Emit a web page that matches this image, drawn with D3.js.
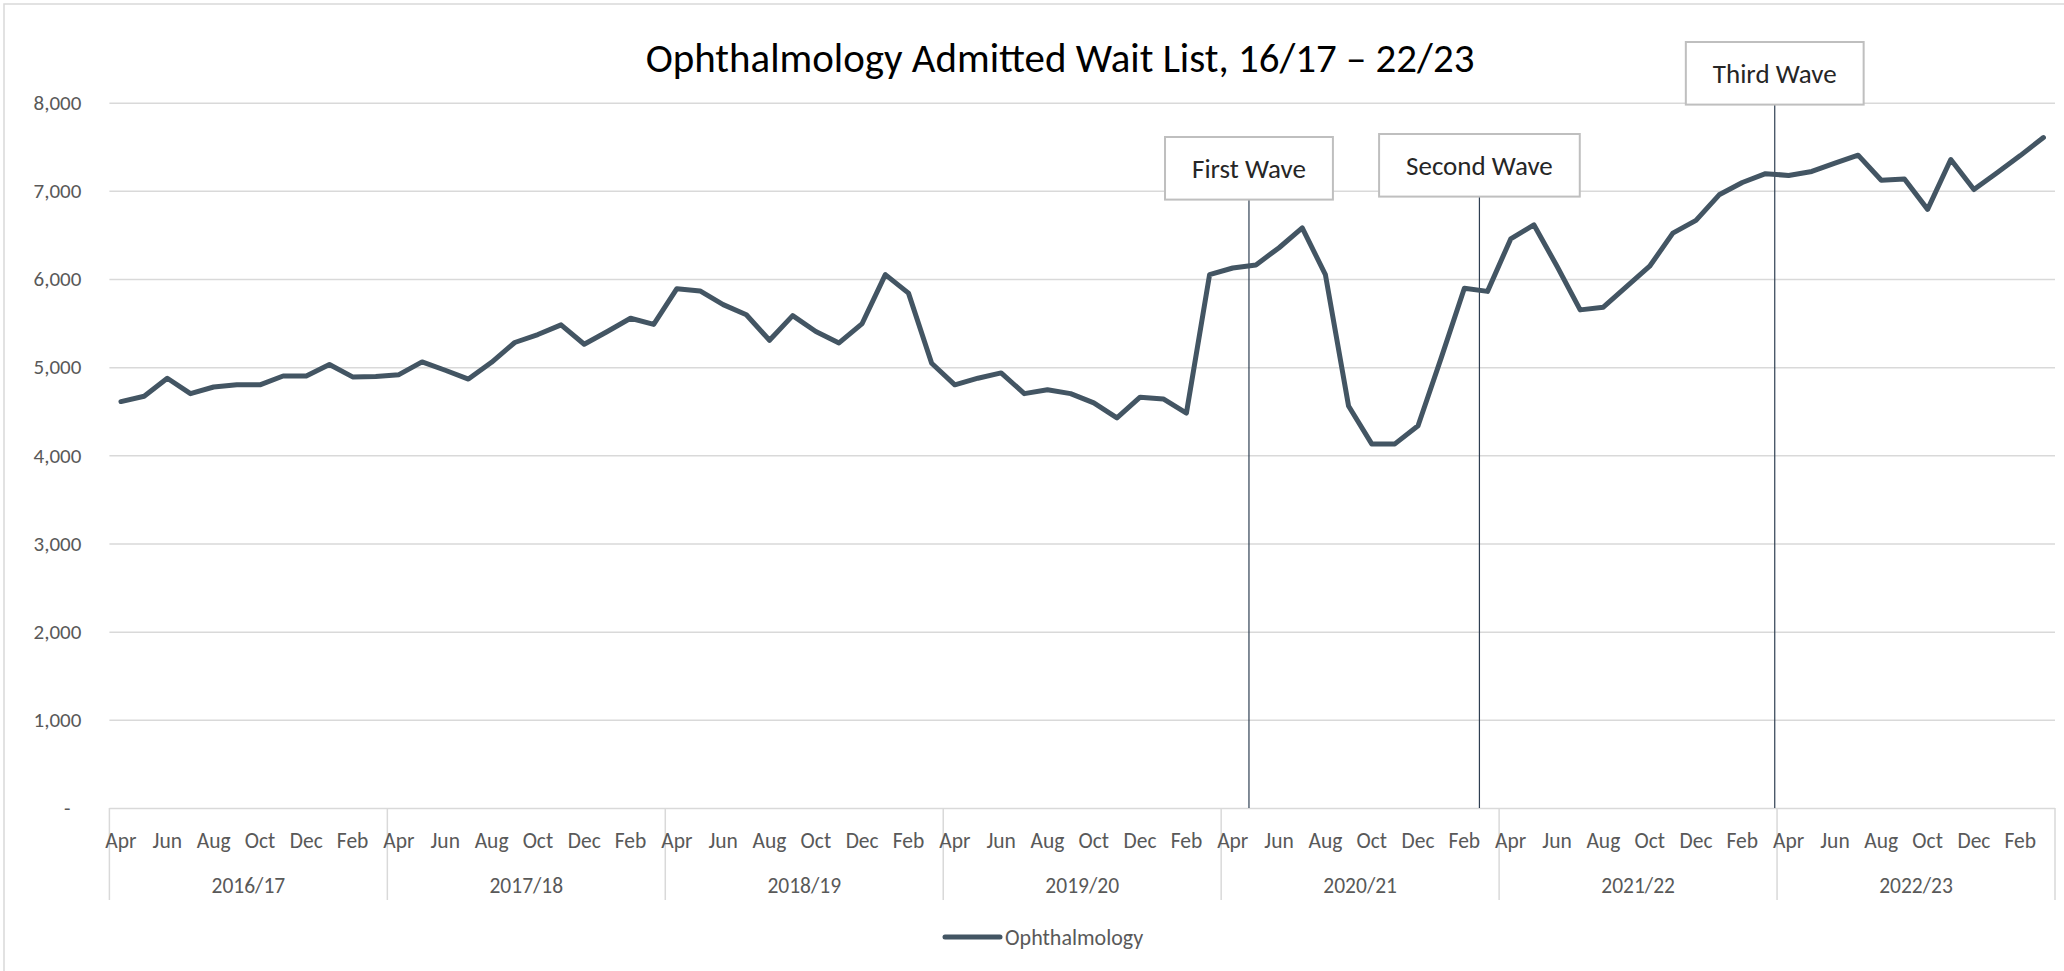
<!DOCTYPE html>
<html>
<head>
<meta charset="utf-8">
<script src="https://cdn.jsdelivr.net/npm/d3@7"></script>
<style>
  html, body { margin: 0; padding: 0; background: #ffffff; }
  svg text { font-family: Carlito, Calibri, Lato, sans-serif; }
</style>
</head>
<body>
<div id="svgcontainer"></div>
<script>
         var fiscalYears = ["2016/17", "2017/18", "2018/19", "2019/20", "2020/21", "2021/22", "2022/23"];
         var monthNames = ["Apr", "May", "Jun", "Jul", "Aug", "Sep", "Oct", "Nov", "Dec", "Jan", "Feb", "Mar"];

         // monthly admitted wait list, Apr 2016 .. Mar 2023
         var waitList = [
            4610, 4670, 4875, 4700, 4775, 4800, 4800, 4900, 4900, 5030, 4890, 4895,
            4915, 5060, 4965, 4865, 5055, 5280, 5370, 5480, 5260, 5405, 5555, 5485,
            5890, 5865, 5710, 5595, 5305, 5585, 5405, 5275, 5495, 6050, 5840, 5045,
            4800, 4875, 4935, 4700, 4745, 4700, 4595, 4425, 4660, 4640, 4480, 6050,
            6125, 6160, 6355, 6580, 6050, 4560, 4130, 4130, 4335, 5105, 5895, 5860,
            6455, 6615, 6145, 5650, 5680, 5915, 6145, 6520, 6665, 6955, 7095, 7195,
            7175, 7220, 7315, 7405, 7120, 7135, 6790, 7355, 7015, 7205, 7400, 7605
         ];

         var yTicks = [0, 1000, 2000, 3000, 4000, 5000, 6000, 7000, 8000];

         var waveLabels = ["First Wave", "Second Wave", "Third Wave"];
         var waveMonths = [49.2, 59.15, 71.9];

         var width = 2064;
         var height = 971;

         var svg = d3.select("#svgcontainer")
            .append("svg")
            .attr("width", width)
            .attr("height", height);

         var plotLeft = 109.4, plotRight = 2055, plotTop = 102.7, plotBottom = 808;
         var lineColor = "#435563";
         var gridColor = "#d9d9d9";
         var textColor = "#595959";

         var x = d3.scaleLinear()
            .domain([0, waitList.length])
            .range([plotLeft, plotRight]);

         var y = d3.scaleLinear()
            .domain([0, 8000])
            .range([plotBottom, plotTop]);

         // chart border
         svg.append("rect")
            .attr("x", 4)
            .attr("y", 4)
            .attr("width", width + 10)
            .attr("height", height + 10)
            .attr("fill", "white")
            .attr("stroke", gridColor)
            .attr("stroke-width", 1.5);

         // title
         var title = svg.append("text")
            .attr("x", 1060)
            .attr("y", 72)
            .attr("text-anchor", "middle")
            .attr("fill", "#000000")
            .style("font-size", "40px")
            .text("Ophthalmology Admitted Wait List, 16/17 \u2013 22/23");

         var tlen = title.node().getComputedTextLength();
         title.style("font-size", (40 * 829 / tlen) + "px");

         // y axis with gridlines
         var yAxis = svg.append("g")
            .attr("transform", "translate(" + plotLeft + ",0)")
            .call(d3.axisLeft(y)
               .tickValues(yTicks)
               .tickSize(-(plotRight - plotLeft))
               .tickPadding(28)
               .tickFormat(function(d){ return d == 0 ? "-" : d3.format(",")(d); }));

         yAxis.select(".domain").remove();
         yAxis.selectAll(".tick line")
            .attr("stroke", gridColor)
            .attr("stroke-width", 1.5);
         yAxis.selectAll(".tick text")
            .attr("fill", textColor)
            .style("font-size", "21px")
            .attr("dx", function(d){ return d == 0 ? -11 : 0; });

         // category axis: months and fiscal years
         var xAxis = svg.append("g").attr("class", "x-axis");

         xAxis.selectAll("line.sep")
            .data(d3.range(fiscalYears.length + 1))
            .enter()
            .append("line")
            .attr("class", "sep")
            .attr("x1", function(d){ return x(d * 12); })
            .attr("x2", function(d){ return x(d * 12); })
            .attr("y1", plotBottom)
            .attr("y2", 900)
            .attr("stroke", gridColor)
            .attr("stroke-width", 1.5);

         xAxis.selectAll("text.month")
            .data(d3.range(0, waitList.length, 2))
            .enter()
            .append("text")
            .attr("class", "month")
            .attr("x", function(d){ return x(d + 0.5); })
            .attr("y", 848)
            .attr("text-anchor", "middle")
            .attr("fill", textColor)
            .style("font-size", "21.5px")
            .text(function(d){ return monthNames[d % 12]; });

         xAxis.selectAll("text.year")
            .data(fiscalYears)
            .enter()
            .append("text")
            .attr("class", "year")
            .attr("x", function(d, i){ return x(i * 12 + 6); })
            .attr("y", 893)
            .attr("text-anchor", "middle")
            .attr("fill", textColor)
            .style("font-size", "21.5px")
            .text(function(d){ return d; });

         // wave markers
         var boxTops = [137, 134, 42];
         var waves = svg.selectAll("g.wave")
            .data(waveLabels)
            .enter()
            .append("g")
            .attr("class", "wave");

         waves.each(function(d, i){
            var g = d3.select(this);
            var cx = x(waveMonths[i]);
            var boxH = 62.6;

            g.append("line")
               .attr("x1", cx)
               .attr("x2", cx)
               .attr("y1", boxTops[i] + boxH)
               .attr("y2", plotBottom)
               .attr("stroke", "#2f3f52")
               .attr("stroke-width", 1.2);

            var rect = g.append("rect");
            var label = g.append("text")
               .attr("x", cx)
               .attr("y", boxTops[i] + 41)
               .attr("text-anchor", "middle")
               .attr("fill", "#262626")
               .style("font-size", "27px")
               .text(d);

            var w = label.node().getComputedTextLength() + 54;
            rect
               .attr("x", cx - w / 2)
               .attr("y", boxTops[i])
               .attr("width", w)
               .attr("height", boxH)
               .attr("fill", "white")
               .attr("stroke", "#bfbfbf")
               .attr("stroke-width", 2);
         });

         // the series
         var line = d3.line()
            .x(function(d, i){ return x(i + 0.5); })
            .y(function(d){ return y(d); });

         svg.append("path")
            .datum(waitList)
            .attr("d", line)
            .attr("fill", "none")
            .attr("stroke", lineColor)
            .attr("stroke-width", 5)
            .attr("stroke-linejoin", "round")
            .attr("stroke-linecap", "round");

         // legend
         var legend = svg.append("g")
            .attr("transform", "translate(945,937)");

         legend.append("line")
            .attr("x1", 0)
            .attr("x2", 55)
            .attr("y1", 0)
            .attr("y2", 0)
            .attr("stroke", lineColor)
            .attr("stroke-width", 5)
            .attr("stroke-linecap", "round");

         legend.append("text")
            .attr("x", 60)
            .attr("y", 8)
            .attr("fill", textColor)
            .style("font-size", "22px")
            .text("Ophthalmology");
</script>
</body>
</html>
